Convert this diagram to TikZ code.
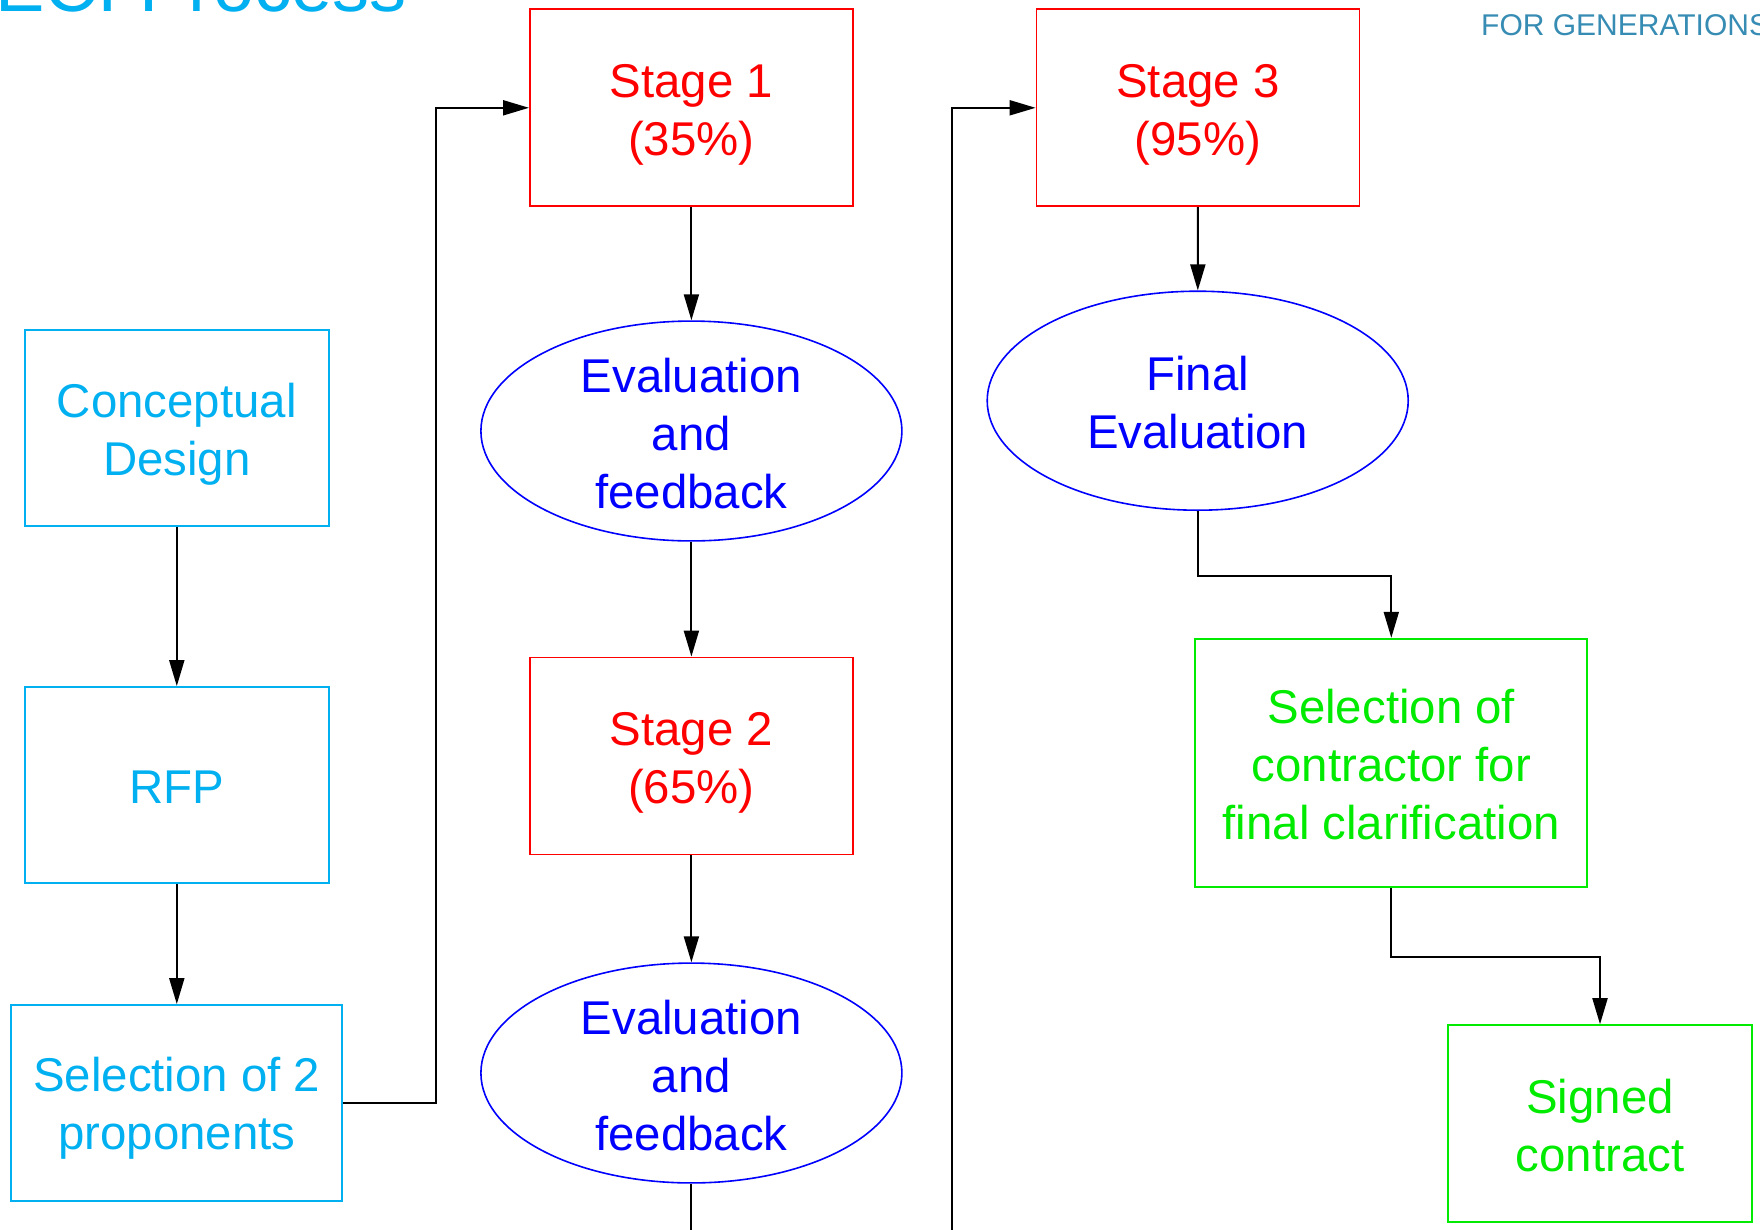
\documentclass[tikz,border=0pt]{standalone}
\usepackage{fontspec}
\setmainfont{Liberation Sans}
\usetikzlibrary{shapes.geometric,arrows.meta}
\definecolor{cyanb}{RGB}{0,176,240}
\definecolor{redb}{RGB}{255,0,0}
\definecolor{blueb}{RGB}{0,0,255}
\definecolor{greenb}{RGB}{0,235,0}
\definecolor{tealb}{RGB}{55,140,180}
\newcommand{\dropby}[1]{\rule{0pt}{\dimexpr 34.5pt+#1\relax}}
\begin{document}
\begin{tikzpicture}[x=1pt,y=-1pt,
  lbl/.style={align=center,font=\fontsize{47.4}{58}\selectfont,inner sep=0pt},
  cbox/.style={lbl,draw=cyanb,text=cyanb,line width=1.8pt,rectangle},
  rbox/.style={lbl,draw=redb,text=redb,line width=1.8pt,rectangle,minimum width=323pt,minimum height=197pt},
  gbox/.style={lbl,draw=greenb,text=greenb,line width=1.8pt,rectangle},
  bell/.style={lbl,draw=blueb,text=blueb,line width=1.6pt,ellipse,minimum width=421pt,minimum height=218pt},
  arr/.style={draw=black,line width=2pt,-{Triangle[length=26pt,width=15pt]}},
  ln/.style={draw=black,line width=2pt}]
\useasboundingbox (0,0) rectangle (1760,1229);
\fill[white] (0,0) rectangle (1760,1229);
% title fragments
\node[anchor=base west,inner sep=0pt,text=cyanb,font=\fontsize{74}{80}\selectfont] (title) at (-5,11) {ECI Process};
\node[anchor=base west,inner sep=0pt,text=tealb,font=\fontsize{30}{34}\selectfont] (slogan) at (1481,35) {FOR GENERATIONS};
% left column
\node[cbox,minimum width=304pt,minimum height=196pt] (concept) at (176.8,428.2) {\dropby{11pt}Conceptual\\Design};
\node[cbox,minimum width=304pt,minimum height=196pt] (rfp) at (176.8,785) {\dropby{2pt}RFP};
\node[cbox,minimum width=331pt,minimum height=196pt] (sel2) at (176.8,1103) {\dropby{11pt}Selection of 2\\proponents};
% middle column
\node[rbox] (stage1) at (691.4,107.8) {\dropby{13pt}Stage 1\\(35\%)};
\node[bell] (eval1) at (691.4,431) {\dropby{4.5pt}Evaluation\\and\\feedback};
\node[rbox] (stage2) at (691.4,756) {\dropby{13pt}Stage 2\\(65\%)};
\node[bell] (eval2) at (691.4,1073) {\dropby{4.5pt}Evaluation\\and\\feedback};
% right column
\node[rbox] (stage3) at (1198,107.8) {\dropby{13pt}Stage 3\\(95\%)};
\node[bell,minimum height=219pt] (final) at (1197.7,400.7) {\dropby{4.5pt}Final\\Evaluation};
\node[gbox,minimum width=392pt,minimum height=248pt] (selc) at (1391.3,762.7) {\dropby{4.5pt}Selection of\\contractor for\\final clarification};
\node[gbox,minimum width=304pt,minimum height=197pt] (signed) at (1600,1123.6) {\dropby{4.5pt}Signed\\contract};
% free ends
\coordinate (e2end) at (691.4,1232);
\coordinate (s3start) at (951.8,1232);
% connectors
\draw[arr] (concept) -- (rfp);
\draw[arr] (rfp) -- (sel2);
\draw[arr] (sel2.east) -- ++(93.2,0) |- (stage1.west);
\draw[arr] (stage1) -- (eval1);
\draw[arr] (eval1) -- (stage2);
\draw[arr] (stage2) -- (eval2);
\draw[ln] (eval2.south) -- (e2end);
\draw[arr] (s3start) |- (stage3.west);
\draw[arr] (stage3) -- (final);
\draw[arr] (final.south) -- ++(0,64.5) -| (selc.north);
\draw[arr] (selc.south) -- ++(0,69.6) -| (signed.north);
\end{tikzpicture}
\end{document}
